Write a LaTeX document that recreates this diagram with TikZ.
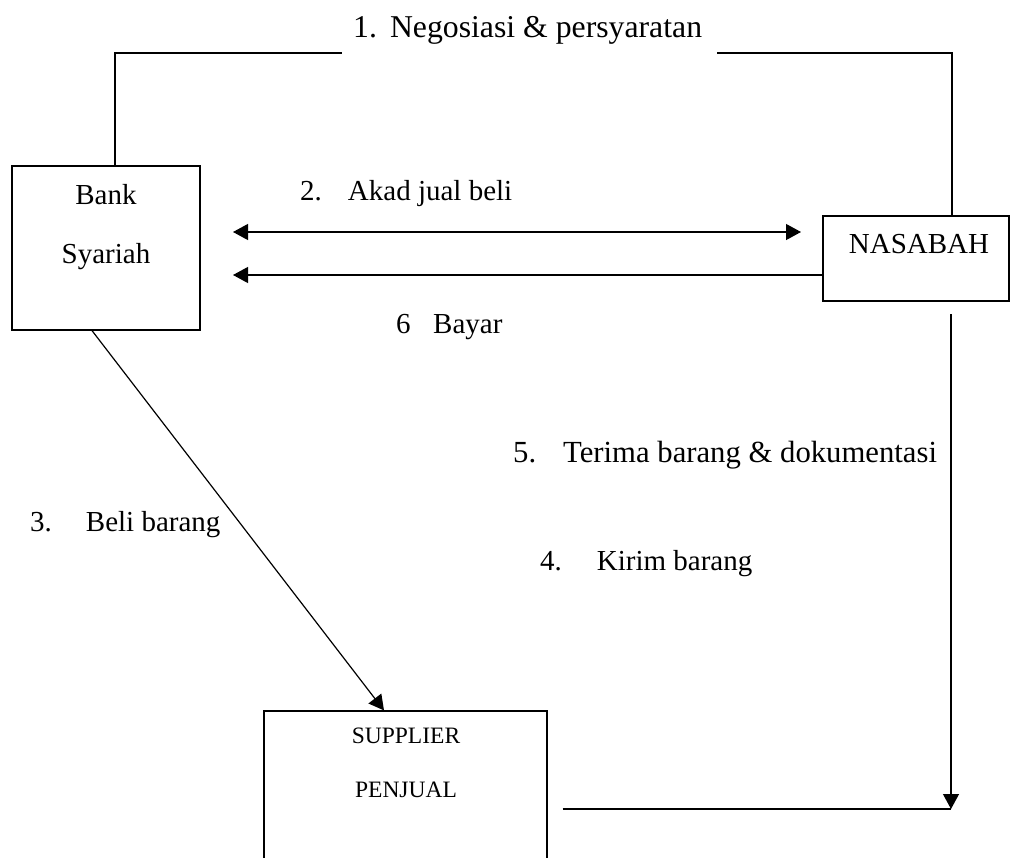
\documentclass[tikz,border=0pt]{standalone}
\usepackage{fontspec}
\setmainfont{Liberation Serif}
\usetikzlibrary{calc}
\usetikzlibrary{arrows.meta}
\tikzset{>={Triangle[width=16pt,length=15pt]}}
\newcommand\bigfont{\fontsize{29}{35}\selectfont}
\newcommand\smallfont{\fontsize{23.5}{28}\selectfont}
\tikzstyle{box}=[draw,line width=1.2pt,inner sep=0pt]
\tikzstyle{txt}=[inner sep=0pt,anchor=base,font=\bigfont]
\tikzstyle{lbl}=[inner sep=0pt,anchor=base west,font=\bigfont]
\tikzstyle{link}=[line width=1.2pt]

\begin{document}
\begin{tikzpicture}[x=1pt,y=-1pt]

  % page
  \useasboundingbox (0,0) rectangle (1012,857);
  \clip (0,0) rectangle (1012,857);

  % boxes
  \node[box,minimum width=188pt,minimum height=164pt] (bank) at (106,248) {};
  \node[box,minimum width=186pt,minimum height=85pt] (nasabah) at (916,258.5) {};
  \node[box,minimum width=283pt,minimum height=200pt] (supplier) at (405.5,811) {};

  % box texts
  \node[txt] (bankA) at (106,204) {Bank};
  \node[txt] (bankB) at (106,263) {Syariah};
  \node[txt] (nasabahA) at (919,253) {NASABAH};
  \node[txt,font=\smallfont] (supplierA) at (406,743) {SUPPLIER};
  \node[txt,font=\smallfont] (supplierB) at (406,797) {PENJUAL};

  % free ends
  \coordinate (negL) at (342,53);
  \coordinate (negR) at (717,53);
  \coordinate (akadL) at (233,232);
  \coordinate (akadR) at (801,232);
  \coordinate (bayarL) at (233,275);
  \coordinate (terimaT) at (951,314);
  \coordinate (kirimR) at (951,809);

  % connectors
  \draw[link]
    ([xshift=9pt]bank.north) |- (negL);
  \draw[link]
    (negR) -| ([xshift=36pt]nasabah.north);
  \draw[link,<->]
    (akadL) -- (akadR);
  \draw[link,->]
    (nasabah.west |- bayarL) -- (bayarL);
  \draw[link,->]
    ([xshift=-14pt]bank.south) -- ([xshift=-21.5pt]supplier.north);
  \draw[link,->]
    (terimaT) -- (kirimR);
  \draw[link]
    ([xshift=15pt]supplier.east |- kirimR) -- (kirimR);

  % labels
  \node[lbl,font=\fontsize{31.75}{38}\selectfont] (neg) at (353,37)
    {1.\hspace{13pt}Negosiasi \& persyaratan};
  \node[lbl] (akad) at (300,200) {2.\hspace{26pt}Akad jual beli};
  \node[lbl] (bayar) at (396,333) {6\hspace{22.5pt}Bayar};
  \node[lbl,font=\fontsize{30.7}{37}\selectfont] (terima) at (513,462)
    {5.\hspace{27pt}Terima barang \& dokumentasi};
  \node[lbl] (beli) at (30,531) {3.\hspace{34pt}Beli barang};
  \node[lbl] (kirim) at (540,570) {4.\hspace{35pt}Kirim barang};

\end{tikzpicture}
\end{document}
